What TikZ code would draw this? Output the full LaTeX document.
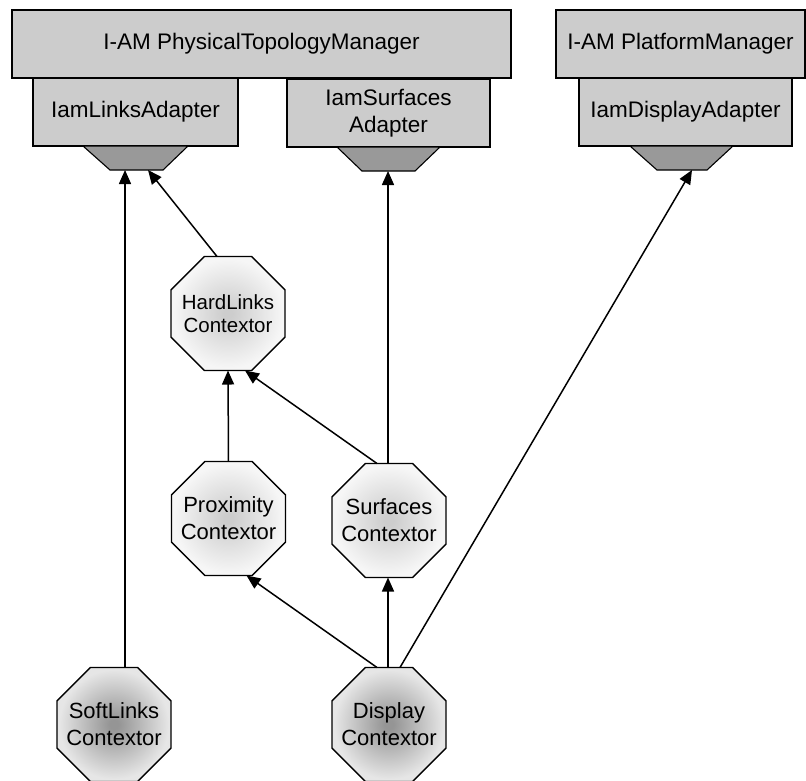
\documentclass[tikz,border=0pt]{standalone}
\usepackage{fontspec}
\setmainfont{Liberation Sans}
\usetikzlibrary{shapes.geometric,arrows.meta,calc}
\definecolor{boxgray}{HTML}{CCCCCC}
\definecolor{trapgray}{HTML}{999999}
\definecolor{lightin}{HTML}{CDCDCD}
\definecolor{lightout}{HTML}{F6F6F6}
\definecolor{darkin}{HTML}{959595}
\definecolor{darkout}{HTML}{E6E6E6}
\pgfdeclareradialshading{octlight}{\pgfpoint{0bp}{0bp}}{color(0bp)=(lightin); color(2bp)=(lightin); color(24bp)=(lightout); color(50bp)=(lightout)}
\pgfdeclareradialshading{octdark}{\pgfpoint{0bp}{0bp}}{color(0bp)=(darkin); color(2bp)=(darkin); color(24bp)=(darkout); color(50bp)=(darkout)}
\tikzset{
  boxnode/.style={draw=black, line width=1.1pt, fill=boxgray, inner sep=0pt, outer sep=0pt, align=center,
    font=\fontsize{22.5}{27}\selectfont},
  trapnode/.style={draw=black, line width=1.1pt, fill=trapgray},
  octbase/.style={regular polygon, regular polygon sides=8, minimum size=123.4pt, inner sep=0pt, outer sep=0pt,
    draw=black, line width=1.4pt},
  octlightnode/.style={octbase, shading=octlight},
  octdarknode/.style={octbase, shading=octdark},
  octtext/.style={align=center, font=\fontsize{22}{27}\selectfont},
  conn/.style={line width=1.5pt, -{Triangle[length=14pt,width=12pt]}},
}
\begin{document}
\begin{tikzpicture}[x=1pt,y=-1pt]
\useasboundingbox (0,0) rectangle (806,780);
% top boxes
\node[boxnode, minimum width=499pt, minimum height=68pt, anchor=north west] (ptm) at (12,10) {I-AM PhysicalTopologyManager};
\node[boxnode, minimum width=249pt, minimum height=68pt, anchor=north west] (pm) at (556,10) {I-AM PlatformManager};
% adapters
\node[boxnode, minimum width=205pt, minimum height=68pt, anchor=north west] (la) at (33,78) {IamLinksAdapter};
\node[boxnode, minimum width=203pt, minimum height=68pt, anchor=north west] (sa) at (287,79) {IamSurfaces\\Adapter};
\node[boxnode, minimum width=213pt, minimum height=68pt, anchor=north west] (da) at (579,78) {IamDisplayAdapter};
% sockets
\draw[trapnode] (83,146) -- (188,146) -- (163,170) -- (110,170) -- cycle;
\coordinate (lt) at (136.5,170);
\draw[trapnode] (337,147) -- (440,147) -- (415,171) -- (362,171) -- cycle;
\coordinate (st) at (388.5,171);
\draw[trapnode] (630,146) -- (733,146) -- (707,170) -- (657,170) -- cycle;
\coordinate (dt) at (682,170);
% contextors
\node[octlightnode, label={[octtext, font=\fontsize{20.5}{23.5}\selectfont]center:HardLinks\\Contextor}] (hl) at (228,313.5) {};
\node[octlightnode, label={[octtext]center:Proximity\\Contextor}] (pc) at (228.5,518.5) {};
\node[octlightnode, label={[octtext]center:Surfaces\\Contextor}] (sc) at (389,520.5) {};
\node[octdarknode, label={[octtext]center:SoftLinks\\Contextor}] (slc) at (114,724.5) {};
\node[octdarknode, label={[octtext]center:Display\\Contextor}] (dc) at (389,724.5) {};
% connectors
\draw[conn] ([xshift=11pt]slc.north) -- ([xshift=-11.5pt]lt);
\draw[conn] ([xshift=-11pt]hl.north) -- ([xshift=11.5pt]lt);
\draw[conn] (pc.north) -- (hl.south);
\draw[conn] ([xshift=-12pt]sc.north) -- ([xshift=17pt]hl.south);
\draw[conn] ([xshift=-1pt]sc.north) -- ([xshift=-0.5pt]st);
\draw[conn] ([xshift=-12pt]dc.north) -- ([xshift=18pt]pc.south);
\draw[conn] ([xshift=-1pt]dc.north) -- ([xshift=-1pt]sc.south);
\draw[conn] ([xshift=11pt]dc.north) -- ([xshift=10pt]dt);
\end{tikzpicture}
\end{document}
